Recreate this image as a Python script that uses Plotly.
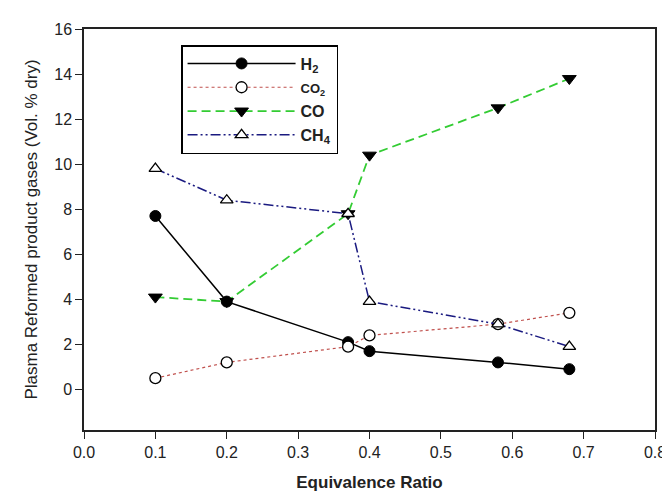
import plotly.graph_objects as go

ratio = [0.1, 0.2, 0.37, 0.4, 0.58, 0.68]
h2 = [7.7, 3.9, 2.1, 1.7, 1.2, 0.9]
co2 = [0.5, 1.2, 1.9, 2.4, 2.9, 3.4]
co = [4.1, 3.9, 7.8, 10.4, 12.5, 13.8]
ch4 = [9.8, 8.4, 7.8, 3.9, 2.9, 1.9]

x_ticks = [0.0, 0.1, 0.2, 0.3, 0.4, 0.5, 0.6, 0.7, 0.8]
y_ticks = [0, 2, 4, 6, 8, 10, 12, 14, 16]

FONT = "Liberation Sans, Arial, sans-serif"

fig = go.Figure()
fig.add_trace(go.Scatter(
    x=ratio, y=h2, mode="lines+markers", name="<b>H<sub>2</sub></b>",
    line=dict(color="black", width=1.5),
    marker=dict(symbol="circle", size=11, color="black", line=dict(color="black", width=1))))
fig.add_trace(go.Scatter(
    x=ratio, y=co2, mode="lines+markers", name="<span style='font-size:13px'><b>CO<sub>2</sub></b></span>",
    line=dict(color="#c0504d", width=1.2, dash="dot"),
    marker=dict(symbol="circle", size=11, color="white", line=dict(color="black", width=1.3))))
fig.add_trace(go.Scatter(
    x=ratio, y=co, mode="lines+markers", name="<b>CO</b>",
    line=dict(color="#33cc33", width=1.8, dash="9px,5px"),
    marker=dict(symbol="triangle-down", size=12, color="black", line=dict(color="black", width=1))))
fig.add_trace(go.Scatter(
    x=ratio, y=ch4, mode="lines+markers", name="<b>CH<sub>4</sub></b>",
    line=dict(color="#1a1a80", width=1.5, dash="10px,3px,2px,3px,2px,3px"),
    marker=dict(symbol="triangle-up", size=11, color="white", line=dict(color="black", width=1.3))))

fig.update_layout(
    width=670, height=493,
    margin=dict(l=76, r=13, t=21, b=65),
    paper_bgcolor="white", plot_bgcolor="white",
    font=dict(family=FONT, size=16, color="#222"),
    showlegend=True,
    legend=dict(
        x=0.17, y=0.96, xanchor="left", yanchor="top",
        bgcolor="white", bordercolor="black", borderwidth=1.5,
        font=dict(family=FONT, size=16, color="#222"),
        traceorder="normal", itemwidth=108, tracegroupgap=0,
    ),
    xaxis=dict(
        range=[0, 0.8], tickvals=x_ticks, tickformat=".1f",
        tickfont=dict(size=16),
        ticks="outside", ticklen=7, tickwidth=1.3, tickcolor="#222",
        showline=True, linecolor="#222", linewidth=1.5, mirror=True,
        showgrid=False, zeroline=False,
        title=dict(text="<b>Equivalence Ratio</b>", font=dict(size=17), standoff=16),
    ),
    yaxis=dict(
        range=[-1.8, 16], tickvals=y_ticks,
        tickfont=dict(size=16),
        ticks="outside", ticklen=7, tickwidth=1.3, tickcolor="#222",
        showline=True, linecolor="#222", linewidth=1.5, mirror=True,
        showgrid=False, zeroline=False,
        title=dict(text="Plasma Reformed product gases (Vol. % dry)", font=dict(size=17), standoff=12),
    ),
)

fig.write_html("out.html")
